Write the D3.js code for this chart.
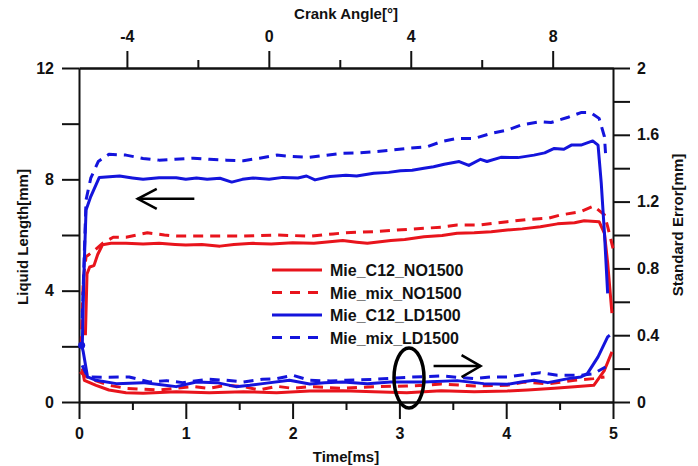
<!DOCTYPE html>
<html>
<head>
<meta charset="utf-8">
<script src="https://cdn.jsdelivr.net/npm/d3@7"></script>
<style>
  body { margin: 0; background: #fff; }
  text { font-family: "Liberation Sans", Arial, sans-serif; font-weight: bold; fill: #111; }
</style>
</head>
<body>
<div id="chart"></div>
<script>
const width = 698;
const height = 466;

// liquid length [mm], [time ms, value]
const c12NoLen = [[0.06,2.4],[0.075,4.6],[0.1,4.85],[0.14,4.9],[0.175,5.3],[0.22,5.65],[0.3,5.7],[0.44,5.7],[0.6,5.68],[0.75,5.7],[0.9,5.66],[1.0,5.64],[1.15,5.66],[1.32,5.6],[1.45,5.66],[1.63,5.7],[1.8,5.68],[2.0,5.72],[2.2,5.7],[2.47,5.8],[2.6,5.74],[2.7,5.7],[2.92,5.8],[3.05,5.84],[3.23,5.94],[3.4,5.98],[3.54,6.06],[3.7,6.08],[3.86,6.12],[4.01,6.18],[4.15,6.22],[4.32,6.3],[4.48,6.4],[4.64,6.44],[4.73,6.51],[4.87,6.48],[4.92,6.06],[4.95,5.0],[4.99,3.19]];
const mixNoLen = [[0.02,2.0],[0.04,4.4],[0.066,5.22],[0.13,5.4],[0.22,5.7],[0.32,5.92],[0.44,5.92],[0.64,6.08],[0.8,6.0],[0.91,5.96],[1.22,5.96],[1.54,5.96],[1.85,6.0],[2.16,5.96],[2.38,6.04],[2.5,6.08],[2.76,6.12],[3.07,6.2],[3.39,6.28],[3.54,6.36],[3.76,6.36],[4.01,6.48],[4.2,6.56],[4.39,6.6],[4.51,6.72],[4.7,6.84],[4.82,7.04],[4.92,6.72],[4.95,6.3],[5.0,5.52]];
const c12LdLen = [[0.03,1.9],[0.045,4.5],[0.066,6.9],[0.11,7.38],[0.19,8.07],[0.38,8.12],[0.5,8.05],[0.6,8.0],[0.75,8.06],[0.91,8.06],[1.0,8.0],[1.1,8.05],[1.2,8.0],[1.32,8.04],[1.43,7.9],[1.53,8.0],[1.63,8.05],[1.78,8.0],[1.91,8.07],[2.05,8.05],[2.13,8.12],[2.21,7.98],[2.35,8.1],[2.5,8.15],[2.6,8.12],[2.76,8.22],[2.9,8.25],[3.01,8.31],[3.12,8.33],[3.23,8.4],[3.32,8.45],[3.42,8.54],[3.56,8.64],[3.65,8.5],[3.76,8.72],[3.82,8.64],[3.95,8.79],[4.11,8.78],[4.26,8.87],[4.36,8.95],[4.45,9.11],[4.54,9.08],[4.61,9.23],[4.7,9.23],[4.81,9.38],[4.86,9.23],[4.89,7.86],[4.92,6.06],[4.95,3.9]];
const mixLdLen = [[0.03,3.0],[0.066,7.26],[0.11,8.04],[0.18,8.64],[0.28,8.9],[0.44,8.87],[0.6,8.75],[0.75,8.69],[0.9,8.72],[1.07,8.76],[1.22,8.72],[1.38,8.69],[1.54,8.67],[1.69,8.76],[1.85,8.87],[2.0,8.82],[2.16,8.79],[2.3,8.86],[2.47,8.94],[2.6,8.95],[2.76,8.99],[2.9,9.04],[3.07,9.11],[3.26,9.17],[3.39,9.35],[3.54,9.47],[3.7,9.47],[3.86,9.65],[4.01,9.77],[4.14,9.95],[4.32,10.07],[4.42,10.04],[4.58,10.23],[4.7,10.4],[4.79,10.4],[4.87,10.19],[4.92,9.53],[4.93,8.94]];

// standard error [mm]
const c12NoErr = [[0.03,0.2],[0.05,0.13],[0.16,0.10],[0.28,0.072],[0.44,0.056],[0.6,0.052],[0.91,0.062],[1.22,0.056],[1.54,0.062],[1.85,0.056],[2.16,0.066],[2.47,0.068],[2.76,0.062],[3.07,0.056],[3.39,0.068],[3.7,0.062],[4.01,0.066],[4.2,0.072],[4.45,0.082],[4.64,0.092],[4.82,0.10],[4.92,0.19],[4.99,0.30]];
const mixNoErr = [[0.01,0.18],[0.05,0.16],[0.1,0.14],[0.28,0.10],[0.44,0.082],[0.6,0.076],[0.75,0.072],[0.91,0.082],[1.07,0.092],[1.22,0.082],[1.38,0.1],[1.54,0.092],[1.69,0.072],[1.85,0.094],[2.0,0.082],[2.16,0.092],[2.47,0.082],[2.76,0.092],[3.07,0.096],[3.23,0.1],[3.39,0.108],[3.7,0.096],[4.01,0.1],[4.17,0.12],[4.39,0.108],[4.64,0.13],[4.82,0.14],[4.92,0.15]];
const c12LdErr = [[0.025,0.34],[0.04,0.3],[0.08,0.15],[0.16,0.13],[0.35,0.11],[0.6,0.116],[0.75,0.105],[0.91,0.092],[1.1,0.12],[1.29,0.116],[1.47,0.092],[1.6,0.1],[1.72,0.11],[1.97,0.13],[2.16,0.108],[2.3,0.115],[2.47,0.12],[2.7,0.11],[2.92,0.12],[3.23,0.12],[3.54,0.128],[3.79,0.11],[4.01,0.106],[4.14,0.12],[4.26,0.13],[4.39,0.116],[4.58,0.14],[4.7,0.15],[4.76,0.17],[4.86,0.27],[4.95,0.39],[4.97,0.4]];
const mixLdErr = [[0.03,0.22],[0.08,0.15],[0.28,0.148],[0.47,0.15],[0.66,0.12],[0.82,0.128],[0.97,0.116],[1.22,0.136],[1.38,0.13],[1.54,0.12],[1.72,0.136],[1.85,0.14],[2.0,0.16],[2.16,0.13],[2.35,0.126],[2.5,0.13],[2.76,0.136],[3.07,0.148],[3.39,0.156],[3.7,0.14],[3.86,0.15],[4.01,0.15],[4.32,0.175],[4.48,0.16],[4.7,0.16],[4.82,0.17],[4.93,0.21]];

const seriesNames = ["Mie_C12_NO1500", "Mie_mix_NO1500", "Mie_C12_LD1500", "Mie_mix_LD1500"];
const seriesColors = ["#e8141c", "#e8141c", "#1414dc", "#1414dc"];
const seriesDashed = [false, true, false, true];

const timeTicks = [0, 1, 2, 3, 4, 5];
const lenTicks = [0, 4, 8, 12];
const errTicks = [0, 0.4, 0.8, 1.2, 1.6, 2];
const crankTicks = [-4, 0, 4, 8];
const crankDomain = [-5.35, 9.7];

const svg = d3.select("#chart")
  .append("svg")
  .attr("width", width)
  .attr("height", height);

const x = d3.scaleLinear().domain([0, 5]).range([79, 613]);
const xTop = d3.scaleLinear().domain(crankDomain).range([79, 613]);
const yLen = d3.scaleLinear().domain([0, 12]).range([402, 68]);
const yErr = d3.scaleLinear().domain([0, 2]).range([402, 68]);

function styleAxis(g) {
  g.selectAll("path.domain").attr("stroke", "#111").attr("stroke-width", 2);
  g.selectAll(".tick line").attr("stroke", "#111").attr("stroke-width", 2);
  g.selectAll(".tick text").attr("font-size", 16).attr("font-family", null);
}

// bottom axis: minor ticks then major
svg.append("g")
  .attr("transform", "translate(0,402)")
  .call(d3.axisBottom(x).tickValues(d3.range(0.5, 5, 1)).tickSize(8).tickFormat("").tickSizeOuter(0))
  .call(styleAxis);
svg.append("g")
  .attr("transform", "translate(0,402)")
  .call(d3.axisBottom(x).tickValues(timeTicks).tickSize(17).tickPadding(9).tickFormat(d => String(d)).tickSizeOuter(0))
  .call(styleAxis);

// top axis
svg.append("g")
  .attr("transform", "translate(0,68)")
  .call(d3.axisTop(xTop).tickValues([-2, 2, 6]).tickSize(8).tickFormat("").tickSizeOuter(0))
  .call(styleAxis);
svg.append("g")
  .attr("transform", "translate(0,68)")
  .call(d3.axisTop(xTop).tickValues(crankTicks).tickSize(17).tickPadding(9).tickFormat(d => String(d)).tickSizeOuter(0))
  .call(styleAxis);

// left axis
svg.append("g")
  .attr("transform", "translate(79,0)")
  .call(d3.axisLeft(yLen).tickValues(d3.range(0, 13, 2)).tickSize(17).tickPadding(8)
    .tickFormat(d => lenTicks.includes(d) ? String(d) : "").tickSizeOuter(0))
  .call(styleAxis);

// right axis
svg.append("g")
  .attr("transform", "translate(613,0)")
  .call(d3.axisRight(yErr).tickValues(d3.range(0, 11).map(i => i * 0.2)).tickSize(17).tickPadding(7)
    .tickFormat(d => errTicks.some(v => Math.abs(v - d) < 1e-6) ? String(+d.toFixed(1)) : "").tickSizeOuter(0))
  .call(styleAxis);

// axis titles
svg.append("text").attr("x", 346).attr("y", 462).attr("text-anchor", "middle")
  .attr("font-size", 15).text("Time[ms]");
svg.append("text").attr("x", 346).attr("y", 19).attr("text-anchor", "middle")
  .attr("font-size", 15).text("Crank Angle[°]");
svg.append("text").attr("transform", "translate(28,237) rotate(-90)").attr("text-anchor", "middle")
  .attr("font-size", 15).text("Liquid Length[mm]");
svg.append("text").attr("transform", "translate(683,225) rotate(-90)").attr("text-anchor", "middle")
  .attr("font-size", 15).text("Standard Error[mm]");

// curves
const lenSeries = [c12NoLen, mixNoLen, c12LdLen, mixLdLen];
const errSeries = [c12NoErr, mixNoErr, c12LdErr, mixLdErr];

const lineLen = d3.line().x(d => x(d[0])).y(d => yLen(d[1]));
const lineErr = d3.line().x(d => x(d[0])).y(d => yErr(d[1]));

const curves = svg.append("g").attr("fill", "none").attr("stroke-width", 3)
  .attr("stroke-linejoin", "round");

[[errSeries, lineErr], [lenSeries, lineLen]].forEach(([group, gen]) => {
  curves.selectAll(null)
    .data(group)
    .join("path")
    .attr("d", gen)
    .attr("stroke", (d, i) => seriesColors[i])
    .attr("stroke-dasharray", (d, i) => seriesDashed[i] ? "10,7" : null);
});

// blue marker at start of LD error curve
svg.append("circle").attr("cx", x(c12LdErr[0][0])).attr("cy", yErr(c12LdErr[0][1]))
  .attr("r", 3.5).attr("fill", seriesColors[2]);

// legend
const legend = svg.append("g");
seriesNames.forEach((name, i) => {
  const ly = 270 + i * 22.5;
  legend.append("line").attr("x1", 272).attr("x2", 322).attr("y1", ly).attr("y2", ly)
    .attr("stroke", seriesColors[i]).attr("stroke-width", 3)
    .attr("stroke-dasharray", seriesDashed[i] ? "10,8" : null);
  legend.append("text").attr("x", 330).attr("y", ly + 6).attr("font-size", 16).text(name);
});

// annotations: arrows and ellipse
const ann = svg.append("g").attr("stroke", "#000").attr("stroke-width", 2.5).attr("fill", "none");
const ay1 = yLen(7.3);
ann.append("line").attr("x1", x(0.55)).attr("x2", x(1.08)).attr("y1", ay1).attr("y2", ay1);
ann.append("path").attr("d", `M${x(0.55) + 19},${ay1 - 10}L${x(0.55)},${ay1}L${x(0.55) + 19},${ay1 + 10}`);

const ay2 = yErr(0.215);
ann.append("line").attr("x1", x(3.32)).attr("x2", x(3.76)).attr("y1", ay2).attr("y2", ay2);
ann.append("path").attr("d", `M${x(3.76) - 19},${ay2 - 11}L${x(3.76)},${ay2}L${x(3.76) - 19},${ay2 + 11}`);

ann.append("ellipse").attr("cx", x(3.09)).attr("cy", yErr(0.144)).attr("rx", 15).attr("ry", 30)
  .attr("stroke-width", 3.5);
</script>
</body>
</html>
